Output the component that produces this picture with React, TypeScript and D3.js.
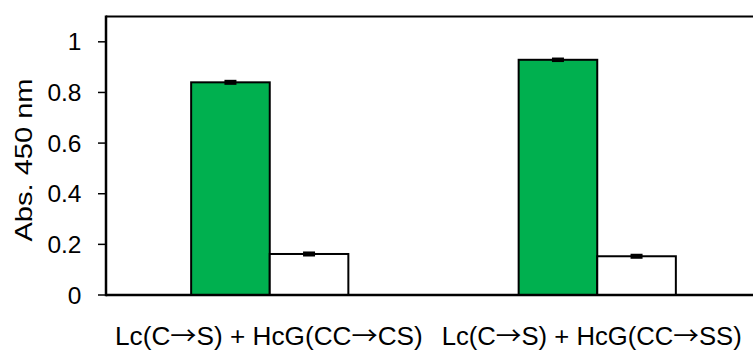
import React from "react";
import * as d3 from "d3";

const categories = ["Lc(C→S) + HcG(CC→CS)", "Lc(C→S) + HcG(CC→SS)"];
const seriesNames = ["green", "white"];
const greenValues = [0.84, 0.929];
const greenErrors = [0.005, 0.004];
const whiteValues = [0.162, 0.153];
const whiteErrors = [0.005, 0.005];
const yTicks = [0, 0.2, 0.4, 0.6, 0.8, 1];
const yTickLabels = ["0", "0.2", "0.4", "0.6", "0.8", "1"];
const yTitle = "Abs. 450 nm";

const W = 753;
const H = 350;
const left = 106;
const right = 761;
const top = 16.5;
const bottom = 295;
const font = "'Liberation Sans', Arial, sans-serif";
const arrowFont = "'Noto Sans CJK JP', 'DejaVu Sans', sans-serif";

export default function App() {
  const y = d3.scaleLinear().domain([0, 1.1]).range([bottom, top]);
  const x = d3
    .scaleBand<string>()
    .domain(categories)
    .range([left, right])
    .paddingInner(0.52)
    .paddingOuter(0.26);
  const x1 = d3.scaleBand<string>().domain(seriesNames).range([0, x.bandwidth()]);
  const series = [
    { name: "green", values: greenValues, errors: greenErrors, fill: "#00B04F" },
    { name: "white", values: whiteValues, errors: whiteErrors, fill: "#ffffff" },
  ];
  const labelCenters = [268.9, 591.7];
  const labelWidths = [307.7, 300];
  const renderLabel = (c: string) => {
    const parts = c.split("→");
    const out: React.ReactNode[] = [];
    parts.forEach((p, i) => {
      out.push(<tspan key={"p" + i}>{p}</tspan>);
      if (i < parts.length - 1)
        out.push(
          <tspan key={"a" + i} fontFamily={arrowFont}>
            →
          </tspan>
        );
    });
    return out;
  };
  return (
    <svg
      width={W}
      height={H}
      style={{ position: "absolute", left: 0, top: 0, background: "#fff" }}
      fontFamily={font}
    >
      <rect x={0} y={0} width={W} height={H} fill="#fff" />
      <line x1={left} x2={W} y1={top} y2={top} stroke="#000" strokeWidth={2} />
      {series.map((s) =>
        categories.map((c, i) => {
          const bx = (x(c) as number) + (x1(s.name) as number);
          const bw = x1.bandwidth();
          const by = y(s.values[i]);
          const cx = bx + bw / 2;
          return (
            <g key={s.name + i}>
              <rect
                x={bx}
                y={by}
                width={bw}
                height={bottom - by}
                fill={s.fill}
                stroke="#000"
                strokeWidth={2}
              />
              <line
                x1={cx}
                x2={cx}
                y1={y(s.values[i] + s.errors[i])}
                y2={y(s.values[i] - s.errors[i])}
                stroke="#000"
                strokeWidth={2}
              />
              {[s.values[i] + s.errors[i], s.values[i] - s.errors[i]].map((v, k) => (
                <line
                  key={k}
                  x1={cx - 6}
                  x2={cx + 6}
                  y1={y(v)}
                  y2={y(v)}
                  stroke="#000"
                  strokeWidth={2.5}
                />
              ))}
            </g>
          );
        })
      )}
      <line x1={left} x2={W} y1={bottom} y2={bottom} stroke="#000" strokeWidth={2.5} />
      <line x1={left} x2={left} y1={top - 1} y2={bottom + 1.2} stroke="#000" strokeWidth={2.5} />
      {yTicks.map((t, i) => (
        <g key={t}>
          <line x1={left - 8} x2={left} y1={y(t)} y2={y(t)} stroke="#000" strokeWidth={1.5} />
          <text x={81.5} y={y(t) + 8.5} textAnchor="end" fontSize={24.5} fill="#000">
            {yTickLabels[i]}
          </text>
        </g>
      ))}
      <text
        transform={`translate(31.5,160) rotate(-90)`}
        textAnchor="middle"
        fontSize={24}
        fill="#000"
        textLength={163}
        lengthAdjust="spacingAndGlyphs"
      >
        {yTitle}
      </text>
      {categories.map((c, i) => (
        <text
          key={c}
          x={labelCenters[i]}
          y={344.5}
          textAnchor="middle"
          fontSize={25}
          fill="#000"
          textLength={labelWidths[i]}
          lengthAdjust="spacingAndGlyphs"
        >
          {renderLabel(c)}
        </text>
      ))}
    </svg>
  );
}
